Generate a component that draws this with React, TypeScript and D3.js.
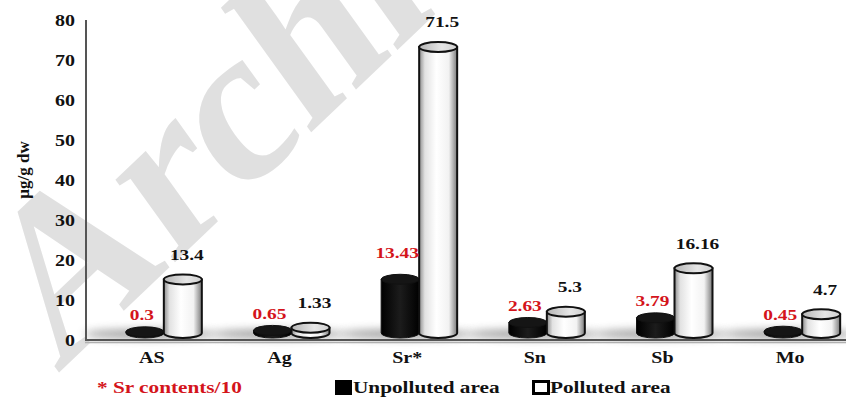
import React from "react";
import * as d3 from "d3";

// Trace element contents (µg/g dw); Sr is shown divided by 10
const categories = ["AS", "Ag", "Sr*", "Sn", "Sb", "Mo"];
const unpolluted = [0.3, 0.65, 13.43, 2.63, 3.79, 0.45];
const polluted = [13.4, 1.33, 71.5, 5.3, 16.16, 4.7];
const unpollutedLabels = ["0.3", "0.65", "13.43", "2.63", "3.79", "0.45"];
const pollutedLabels = ["13.4", "1.33", "71.5", "5.3", "16.16", "4.7"];
const yTicks = [0, 10, 20, 30, 40, 50, 60, 70, 80];

const W = 846;
const H = 398;
const FONT = "'Liberation Serif', 'Times New Roman', serif";
const STRETCH = 1.25; // wide bold lettering

// 3-D floor offset: the bars sit slightly behind and above the axis line
const DX = 12;
const DY = -7;
const BAR_W = 38;
const RY = 5;

type LabelProps = {
  x: number;
  y: number;
  size: number;
  fill?: string;
  anchor?: "start" | "middle" | "end";
  children: React.ReactNode;
};

// Bold serif text, slightly stretched horizontally
function Label({ x, y, size, fill = "#111", anchor = "middle", children }: LabelProps) {
  return (
    <text
      transform={`translate(${x},${y}) scale(${STRETCH},1)`}
      dy="0.35em"
      textAnchor={anchor}
      fontFamily={FONT}
      fontWeight="bold"
      fontSize={size}
      fill={fill}
    >
      {children}
    </text>
  );
}

function Cylinder({ cx, yTop, yBottom, dark }: { cx: number; yTop: number; yBottom: number; dark: boolean }) {
  const xl = cx - BAR_W / 2;
  const xr = cx + BAR_W / 2;
  const rx = BAR_W / 2;
  const body = `M${xl},${yTop} L${xl},${yBottom} A${rx},${RY} 0 0 0 ${xr},${yBottom} L${xr},${yTop} Z`;
  return (
    <g>
      <path d={body} fill={dark ? "url(#gBlack)" : "url(#gWhite)"} stroke="#111" strokeWidth={dark ? 1 : 2} />
      <ellipse
        cx={cx}
        cy={yTop}
        rx={rx}
        ry={RY}
        fill={dark ? "#151515" : "url(#gTop)"}
        stroke="#111"
        strokeWidth={dark ? 1 : 2}
      />
    </g>
  );
}

export default function App() {
  const x = d3.scaleBand<string>().domain(categories).range([88, 854]).padding(0);
  const y = d3.scaleLinear().domain([0, 80]).range([340, 20]);
  const axisX = 86;
  const center = (c: string) => (x(c) as number) + x.bandwidth() / 2;

  return (
    <svg width={W} height={H} style={{ position: "absolute", left: 0, top: 0, background: "#fff" }}>
      <defs>
        <linearGradient id="gWhite" x1="0" x2="1" y1="0" y2="0">
          <stop offset="0" stopColor="#8c8c8c" />
          <stop offset="0.15" stopColor="#e2e2e2" />
          <stop offset="0.45" stopColor="#ffffff" />
          <stop offset="0.78" stopColor="#f2f2f2" />
          <stop offset="1" stopColor="#7a7a7a" />
        </linearGradient>
        <linearGradient id="gBlack" x1="0" x2="1" y1="0" y2="0">
          <stop offset="0" stopColor="#000" />
          <stop offset="0.5" stopColor="#1c1c1c" />
          <stop offset="1" stopColor="#000" />
        </linearGradient>
        <linearGradient id="gTop" x1="0" x2="1" y1="0" y2="0">
          <stop offset="0" stopColor="#b5b5b5" />
          <stop offset="0.6" stopColor="#e6e6e6" />
          <stop offset="1" stopColor="#cfcfcf" />
        </linearGradient>
        <filter id="blur" x="-50%" y="-200%" width="200%" height="500%">
          <feGaussianBlur stdDeviation="4" />
        </filter>
      </defs>

      {/* watermark, slanted serif lettering */}
      <text
        x={0}
        y={0}
        transform={`scale(${STRETCH},1) translate(46,374) rotate(-50) skewX(-20)`}
        fontFamily={FONT}
        fontWeight="bold"
        fontSize={195}
        fill="#e0e0e0"
      >
        Archive
      </text>

      {/* y axis tick labels */}
      {yTicks.map((t) => (
        <Label key={t} x={75} y={y(t)} size={16} anchor="end">
          {t}
        </Label>
      ))}
      <text
        transform={`translate(23,170) rotate(-90)`}
        textAnchor="middle"
        dy="0.35em"
        fontFamily={FONT}
        fontWeight="bold"
        fontSize={17}
        fill="#111"
      >
        µg/g dw
      </text>

      {/* shadows on the floor */}
      {categories.map((c) => {
        const pc = center(c) + DX;
        return (
          <ellipse
            key={"s" + c}
            cx={pc - 14}
            cy={y(0) + DY + 1}
            rx={66}
            ry={5}
            fill="#666"
            opacity={0.6}
            filter="url(#blur)"
          />
        );
      })}

      {/* axes */}
      <line x1={axisX} x2={axisX} y1={20} y2={341} stroke="#555" strokeWidth={2} />
      <line x1={axisX - 1} x2={W} y1={340} y2={340} stroke="#555" strokeWidth={2} />
      <line x1={axisX - 1} x2={W} y1={342.5} y2={342.5} stroke="#b0b0b0" strokeWidth={1.5} />

      {/* cylinders and value labels */}
      {categories.map((c, i) => {
        const pc = center(c) + DX;
        const base = y(0) + DY;
        const bCx = pc - BAR_W / 2;
        const wCx = pc + BAR_W / 2;
        const bTop = y(unpolluted[i]) + DY;
        const wTop = y(polluted[i]) + DY;
        return (
          <g key={c}>
            <Cylinder cx={bCx} yTop={bTop} yBottom={base} dark={true} />
            <Cylinder cx={wCx} yTop={wTop} yBottom={base} dark={false} />
            <Label x={bCx - 3} y={bTop - (unpolluted[i] > 10 ? 27 : 17)} size={15.5} fill="#d4141b">
              {unpollutedLabels[i]}
            </Label>
            <Label x={wCx + 4} y={wTop - 25} size={15.5}>
              {pollutedLabels[i]}
            </Label>
          </g>
        );
      })}

      {/* category labels */}
      {categories.map((c) => (
        <Label key={"c" + c} x={center(c)} y={357} size={16}>
          {c}
        </Label>
      ))}

      {/* footnote and legend */}
      <Label x={97} y={387} size={17} fill="#d4141b" anchor="start">
        * Sr contents/10
      </Label>
      <rect x={335} y={380} width={17} height={15} fill="#000" />
      <Label x={353} y={387} size={17} anchor="start">
        Unpolluted area
      </Label>
      <rect x={533.5} y={381.5} width={15} height={12} fill="#fff" stroke="#000" strokeWidth={3} />
      <Label x={550} y={387} size={17} anchor="start">
        Polluted area
      </Label>
    </svg>
  );
}
